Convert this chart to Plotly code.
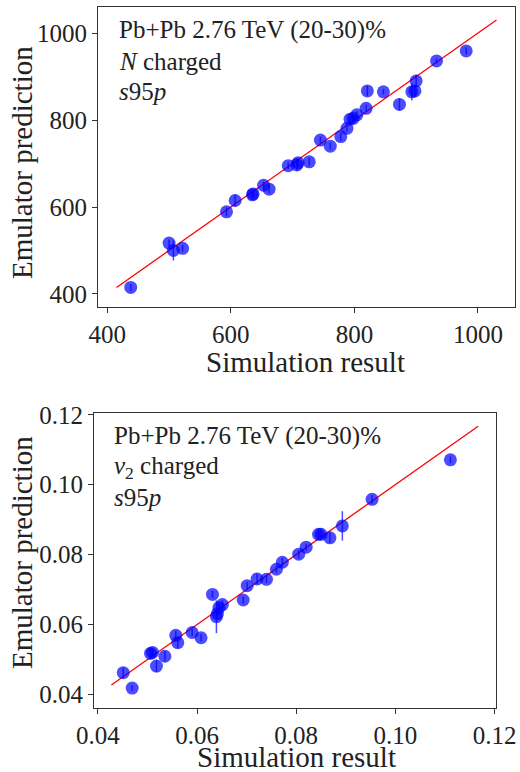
import plotly.graph_objects as go

# ---- Top panel: N charged ----
n_sim = [438, 500, 507, 522, 593, 607, 635, 636, 653, 662, 693, 707, 709, 727, 745,
         761, 778, 788, 793, 798, 804, 819, 821, 847, 873, 893, 898, 900, 933, 981]
n_emu = [415, 517, 500, 505, 589, 615, 628, 630, 650, 641, 695, 697, 702, 704, 754,
         740, 762, 781, 802, 804, 812, 827, 867, 865, 836, 865, 867, 890, 936, 959]
n_err = [8, 8, 23, 8, 10, 14, 8, 8, 8, 10, 8, 15, 8, 10, 8,
         8, 10, 8, 6, 6, 8, 8, 12, 6, 14, 20, 12, 14, 6, 8]
n_line = [415, 1030]

# ---- Bottom panel: v2 charged ----
v_sim = [0.0451, 0.0469, 0.0506, 0.0510, 0.0518, 0.0535, 0.0557, 0.0561, 0.0590, 0.0608,
         0.0631, 0.0639, 0.0641, 0.0644, 0.0651, 0.0693, 0.0701, 0.0721, 0.0740, 0.0760,
         0.0772, 0.0805, 0.0820, 0.0845, 0.0850, 0.0868, 0.0893, 0.0953, 0.1111]
v_emu = [0.0462, 0.0418, 0.0517, 0.0520, 0.0481, 0.0509, 0.0569, 0.0548, 0.0577, 0.0562,
         0.0686, 0.0622, 0.0631, 0.0648, 0.0657, 0.0670, 0.0711, 0.0730, 0.0729, 0.0758,
         0.0778, 0.0801, 0.0821, 0.0858, 0.0858, 0.0848, 0.0882, 0.0958, 0.1071]
v_err = [0.0015, 0.0008, 0.0015, 0.0012, 0.0018, 0.0015, 0.0012, 0.0015, 0.0010, 0.0010,
         0.0010, 0.0047, 0.0012, 0.0015, 0.0012, 0.0010, 0.0010, 0.0015, 0.0010, 0.0010,
         0.0012, 0.0012, 0.0010, 0.0012, 0.0012, 0.0015, 0.0042, 0.0012, 0.0010]
v_line = [0.0427, 0.1167]

top_ticks = [400, 600, 800, 1000]
bot_ticks = [0.04, 0.06, 0.08, 0.10, 0.12]

FONT = "Liberation Serif"
TXT = "#222222"
BLUE = "rgba(0,0,255,0.7)"

fig = go.Figure()

fig.add_trace(go.Scatter(x=n_line, y=n_line, mode="lines", line=dict(color="red", width=1.3),
                         xaxis="x", yaxis="y", showlegend=False, hoverinfo="skip"))
fig.add_trace(go.Scatter(x=n_sim, y=n_emu, mode="markers",
                         marker=dict(color=BLUE, size=13, line=dict(width=0)),
                         error_y=dict(type="data", array=n_err, color=BLUE, thickness=1.5, width=0),
                         xaxis="x", yaxis="y", showlegend=False))

fig.add_trace(go.Scatter(x=v_line, y=v_line, mode="lines", line=dict(color="red", width=1.3),
                         xaxis="x2", yaxis="y2", showlegend=False, hoverinfo="skip"))
fig.add_trace(go.Scatter(x=v_sim, y=v_emu, mode="markers",
                         marker=dict(color=BLUE, size=13, line=dict(width=0)),
                         error_y=dict(type="data", array=v_err, color=BLUE, thickness=1.5, width=0),
                         xaxis="x2", yaxis="y2", showlegend=False))

axis_common = dict(showgrid=False, zeroline=False, showline=True, mirror=True,
                   linecolor="#333333", linewidth=1.2, ticks="outside", ticklen=5,
                   tickcolor="#333333", automargin=False,
                   tickfont=dict(family=FONT, size=25, color=TXT))

fig.update_layout(
    width=520, height=772,
    margin=dict(l=0, r=0, t=0, b=0),
    paper_bgcolor="white", plot_bgcolor="white",
    font=dict(family=FONT, color=TXT),
    xaxis=dict(domain=[98/520, 515/520], range=[385, 1060], tickvals=top_ticks,
               anchor="y", **axis_common),
    yaxis=dict(domain=[1 - 307/772, 1 - 7/772], range=[370, 1060], tickvals=top_ticks,
               anchor="x", **axis_common),
    xaxis2=dict(domain=[94/520, 496/520], range=[0.0392, 0.1203], tickvals=bot_ticks,
                tickformat=".2f", anchor="y2", **axis_common),
    yaxis2=dict(domain=[1 - 708/772, 1 - 413/772], range=[0.0361, 0.1205], tickvals=bot_ticks,
                tickformat=".2f", anchor="x2", **axis_common),
)

title_font = dict(family=FONT, size=29, color=TXT)
# axis titles
fig.add_annotation(text="Simulation result", xref="paper", yref="paper", x=305/520, y=1 - 362/772,
                   xanchor="center", yanchor="middle", showarrow=False, font=title_font)
fig.add_annotation(text="Simulation result", xref="paper", yref="paper", x=296/520, y=0,
                   xanchor="center", yanchor="bottom", yshift=-3, showarrow=False, font=title_font)
fig.add_annotation(text="Emulator prediction", xref="paper", yref="paper", x=22/520, y=1 - 163/772,
                   xanchor="center", yanchor="middle", showarrow=False, textangle=-90, font=title_font)
fig.add_annotation(text="Emulator prediction", xref="paper", yref="paper", x=22/520, y=1 - 553/772,
                   xanchor="center", yanchor="middle", showarrow=False, textangle=-90, font=title_font)

ann_font = dict(family=FONT, size=25, color=TXT)
top_lines = ["Pb+Pb 2.76 TeV (20-30)%", "<i>N</i> charged", "<i>s</i>95<i>p</i>"]
bot_lines = ["Pb+Pb 2.76 TeV (20-30)%", "<i>v</i><sub>2</sub> charged", "<i>s</i>95<i>p</i>"]
for i, t in enumerate(top_lines):
    fig.add_annotation(text=t, xref="paper", yref="paper", x=117/520, y=1 - (30 + 31*i)/772,
                       xanchor="left", yanchor="middle", showarrow=False, font=ann_font)
for i, t in enumerate(bot_lines):
    fig.add_annotation(text=t, xref="paper", yref="paper", x=112/520, y=1 - (436 + 31*i)/772,
                       xanchor="left", yanchor="middle", showarrow=False, font=ann_font)

fig.write_html("out.html")
